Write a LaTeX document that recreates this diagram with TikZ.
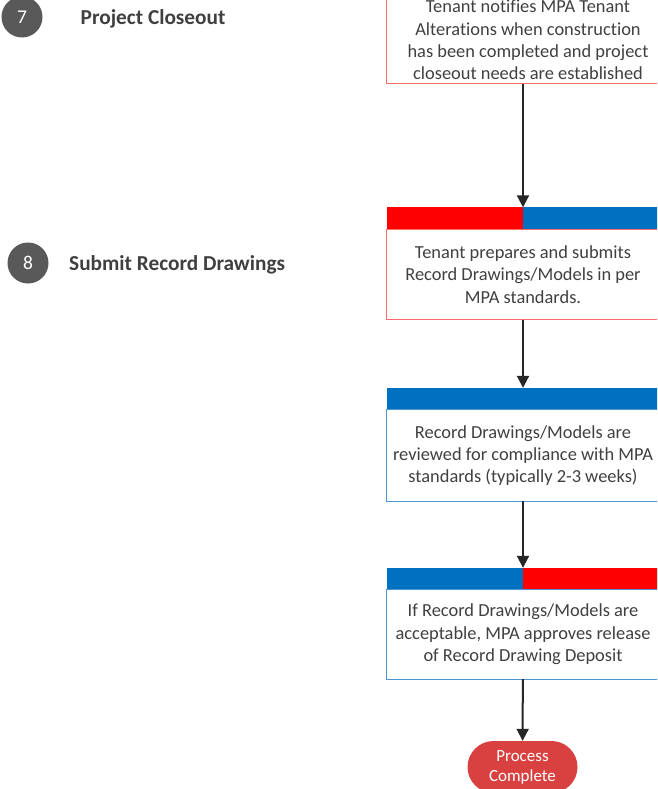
\documentclass[tikz,border=0pt]{standalone}
\usepackage{fontspec}
\setmainfont{Carlito}[Ligatures=NoCommon]
\usetikzlibrary{arrows.meta}
\definecolor{txt}{HTML}{404040}
\definecolor{redb}{HTML}{FF6B6B}
\definecolor{blueb}{HTML}{4F95D3}
\definecolor{redh}{HTML}{FF0000}
\definecolor{blueh}{HTML}{0070C0}
\definecolor{arrc}{HTML}{262626}
\definecolor{numg}{HTML}{595959}
\definecolor{termc}{HTML}{D94141}
\begin{document}
\begin{tikzpicture}[x=1pt,y=-1pt,
  body/.style={rectangle, minimum width=272pt, align=center, text=txt,
    font=\fontsize{18.4}{22.4}\selectfont, inner sep=0pt},
  redline/.style={draw=redb, line width=1.3pt},
  blueline/.style={draw=blueb, line width=1.3pt},
  hdr/.style={rectangle, minimum width=272pt, minimum height=22pt, inner sep=0pt},
  arr/.style={draw=arrc, line width=2pt, -{Triangle[width=12pt,length=12pt]}},
  numc/.style={circle, fill=numg, text=white, minimum size=41pt, inner sep=0pt,
    font=\fontsize{19.5}{22}\selectfont},
  head/.style={text=txt, inner sep=0pt, font=\fontsize{21.3}{25}\selectfont\bfseries, anchor=base west},
  term/.style={rectangle, rounded corners=26pt, fill=termc, text=white, minimum width=110pt,
    minimum height=52pt, align=center, inner sep=0pt, font=\fontsize{17}{20}\selectfont}
]
\useasboundingbox (0,0) rectangle (657,789);
\clip (0,0) rectangle (657,789);
\fill[white] (0,0) rectangle (657,789);

% left labels
\node[numc] (n7) at (22,17) {7};
\node[head] (t7) at (80.5,25) {Project Closeout};
\node[numc] (n8) at (28,263) {8};
\node[head] (t8) at (69,270) {Submit Record Drawings};

% box 1
\node[body, minimum width=282pt, minimum height=98pt] (b1) at (528,34.5) {};
\node[body, anchor=south, minimum width=0pt] (b1t) at ([yshift=3.5pt]b1.south)
  {Tenant notifies MPA Tenant\\Alterations when construction\\has been completed and project\\closeout needs are established};
\draw[redline] (b1.north west) rectangle (b1.south east);

% box 2
\node[hdr] (h2) at (523,218.5) {};
\fill[redh] (h2.north west) rectangle (h2.south);
\fill[blueh] (h2.north) rectangle (h2.south east);
\node[body, minimum height=90pt] (b2) at (523,274.5)
  {Tenant prepares and submits\\Record Drawings/Models in per\\MPA standards.};
\draw[redline] (b2.north west) rectangle (b2.south east);

% box 3
\node[hdr, fill=blueh] (h3) at (523,399) {};
\node[body, minimum height=91pt] (b3) at (523,455.5)
  {Record Drawings/Models are\\reviewed for compliance with MPA\\standards (typically 2-3 weeks)};
\draw[blueline] (b3.north west) rectangle (b3.south east);

% box 4
\node[hdr] (h4) at (523,579) {};
\fill[blueh] (h4.north west) rectangle (h4.south);
\fill[redh] (h4.north) rectangle (h4.south east);
\node[body, minimum height=89pt] (b4) at (523,634.5)
  {If Record Drawings/Models are\\acceptable, MPA approves release\\of Record Drawing Deposit};
\draw[blueline] (b4.north west) rectangle (b4.south east);

% terminator
\node[term] (t) at (522.5,767) {Process\\Complete};

% connectors
\draw[arr] (b1.south -| h2.north) -- (h2.north);
\draw[arr] (b2) -- (h3);
\draw[arr] (b3) -- (h4);
\draw[arr] (b4) -- (t);
\end{tikzpicture}
\end{document}
